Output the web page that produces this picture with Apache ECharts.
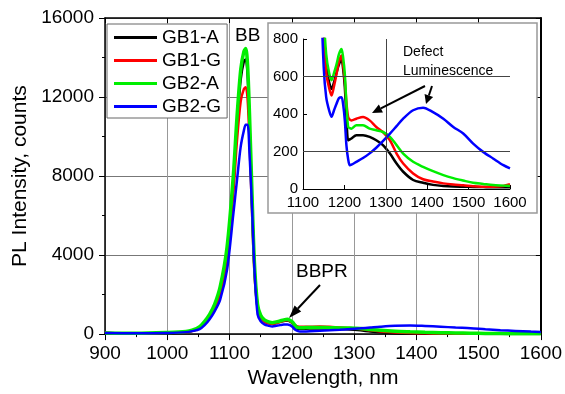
<!DOCTYPE html>
<html>
<head>
<meta charset="utf-8">
<script src="https://cdn.jsdelivr.net/npm/echarts@6/dist/echarts.min.js"></script>
<style>html,body{margin:0;padding:0;background:#fff}#c{width:565px;height:394px}</style>
</head>
<body>
<div id="c"></div>
<script>
// Wavelength sample points (nm)
var wavelengths = [900, 950, 1000, 1030, 1040, 1052, 1060, 1068, 1076, 1085, 1096, 1106, 1112, 1118, 1123, 1126, 1129, 1132, 1136, 1140, 1145, 1150, 1156, 1163, 1169, 1175, 1181, 1187, 1193, 1197, 1201, 1205, 1209, 1213, 1217, 1229, 1245, 1261, 1277, 1293, 1310, 1326, 1342, 1366, 1390, 1414, 1439, 1463, 1487, 1511, 1535, 1559, 1584, 1600];
var GB1_A = [50, 30, 70, 110, 170, 330, 580, 900, 1350, 2100, 4000, 7500, 10500, 12900, 13800, 13900, 13100, 10700, 6800, 3400, 1400, 880, 660, 570, 534, 570, 620, 665, 686, 640, 543, 380, 260, 265, 269, 287, 287, 278, 260, 234, 189, 136, 92, 48, 33, 22, 16, 13, 12, 11, 10, 9, 9, 9];
var GB1_G = [50, 30, 70, 110, 160, 300, 550, 850, 1300, 2000, 3800, 7100, 9800, 11800, 12400, 12500, 11900, 9800, 6300, 3100, 1300, 820, 620, 540, 499, 550, 614, 680, 712, 660, 579, 460, 384, 370, 366, 375, 384, 366, 331, 304, 260, 189, 136, 83, 52, 40, 30, 24, 20, 15, 12, 12, 16, 25];
var GB2_A = [60, 40, 80, 130, 200, 380, 650, 1000, 1500, 2400, 4400, 8000, 11000, 13400, 14300, 14450, 13600, 11200, 7200, 3600, 1500, 950, 720, 620, 580, 620, 665, 720, 747, 700, 614, 450, 331, 325, 322, 340, 340, 322, 313, 304, 278, 234, 189, 145, 118, 95, 74, 58, 45, 33, 27, 21, 18, 16];
var GB2_G = [50, 40, 60, 100, 150, 250, 450, 750, 1150, 1750, 3250, 6050, 7800, 9500, 10300, 10600, 10600, 9200, 6500, 3300, 1000, 650, 490, 420, 385, 420, 455, 485, 490, 450, 366, 230, 160, 127, 130, 145, 165, 190, 220, 255, 295, 335, 375, 420, 434, 410, 375, 331, 296, 242, 198, 163, 127, 110];

var seriesNames = ['GB1-A', 'GB1-G', 'GB2-A', 'GB2-G'];
var seriesValues = [GB1_A, GB1_G, GB2_A, GB2_G];
var seriesColors = ['#000000', '#ff0000', '#00ee00', '#0000ff'];

var mainXTicks = [900, 1000, 1100, 1200, 1300, 1400, 1500, 1600];
var mainYTicks = [0, 4000, 8000, 12000, 16000];
var insetXTicks = [1100, 1200, 1300, 1400, 1500, 1600];
var insetYTicks = [0, 200, 400, 600, 800];
var insetGridY = [200, 600];
var insetGridX = [1300];

var FONT = 'Liberation Sans, Arial, sans-serif';

function pairs(vals) { return wavelengths.map(function (w, i) { return [w, vals[i]]; }); }

var chart = echarts.init(document.getElementById('c'), null, {renderer: 'canvas'});

var series = [];
seriesValues.forEach(function (vals, i) {
  series.push({
    name: seriesNames[i], type: 'line', xAxisIndex: 0, yAxisIndex: 0,
    data: pairs(vals), symbol: 'none', smooth: 0.3, z: 2 + i * 0.1,
    lineStyle: {color: seriesColors[i], width: i === 2 ? 3.5 : 2.5},
    itemStyle: {color: seriesColors[i]}
  });
});
seriesValues.forEach(function (vals, i) {
  var s = {
    name: seriesNames[i], type: 'line', xAxisIndex: 2, yAxisIndex: 2,
    data: pairs(vals), symbol: 'none', smooth: 0.3, z: 4 + i * 0.1, clip: true,
    lineStyle: {color: seriesColors[i], width: 2.5},
    itemStyle: {color: seriesColors[i]}
  };
  if (i === 0) {
    s.markLine = {
      silent: true, symbol: 'none', label: {show: false},
      lineStyle: {color: '#444', width: 1, type: 'solid'},
      data: insetGridY.map(function (v) { return {yAxis: v}; }).concat(insetGridX.map(function (v) { return {xAxis: v}; }))
    };
  }
  series.push(s);
});

function arrow(x1, y1, x2, y2, head) {
  var a = Math.atan2(y2 - y1, x2 - x1);
  var L = head || 11, W = 4.5;
  var bx = x2 - L * Math.cos(a), by = y2 - L * Math.sin(a);
  var p1 = [bx + W * Math.sin(a), by - W * Math.cos(a)];
  var p2 = [bx - W * Math.sin(a), by + W * Math.cos(a)];
  return [
    {type: 'line', z: 20, shape: {x1: x1, y1: y1, x2: bx, y2: by}, style: {stroke: '#000', lineWidth: 2}},
    {type: 'polygon', z: 20, shape: {points: [[x2, y2], p1, p2]}, style: {fill: '#000'}}
  ];
}

var graphics = [
  {type: 'rect', z: 1, shape: {x: 268, y: 23, width: 269, height: 190}, style: {fill: '#fff', stroke: '#999', lineWidth: 1.5}},
  {type: 'text', z: 20, left: 235, top: 26, style: {text: 'BB', font: '19px ' + FONT, fill: '#000'}},
  {type: 'text', z: 20, left: 296, top: 262, style: {text: 'BBPR', font: '19px ' + FONT, fill: '#000'}},
  {type: 'text', z: 20, left: 403, top: 45, style: {text: 'Defect', font: '14px ' + FONT, fill: '#000'}},
  {type: 'text', z: 20, left: 403, top: 64, style: {text: 'Luminescence', font: '14px ' + FONT, fill: '#000'}}
].concat(arrow(320, 285, 289, 318, 13), arrow(425, 86, 372, 113, 10), arrow(432, 86, 426, 104, 9));

var option = {
  animation: false,
  backgroundColor: '#fff',
  textStyle: {fontFamily: FONT},
  grid: [
    {left: 105, right: 24, top: 18, bottom: 56},
    {left: 303, right: 55, top: 39, bottom: 205}
  ],
  legend: {
    data: seriesNames, orient: 'vertical', left: 107, top: 24,
    icon: 'rect', itemWidth: 43, itemHeight: 3, itemGap: 4, itemTextGap: 5,
    padding: [4, 6, 2, 7], borderColor: '#666', borderWidth: 1, backgroundColor: '#fff',
    textStyle: {fontFamily: FONT, fontSize: 19, color: '#000', lineHeight: 19},
    selectedMode: false, z: 6
  },
  xAxis: [
    {type: 'value', gridIndex: 0, position: 'bottom', min: 900, max: 1600, interval: 100,
     name: 'Wavelength, nm', nameLocation: 'middle', nameGap: 33,
     nameTextStyle: {fontFamily: FONT, fontSize: 21, color: '#000'},
     axisLine: {show: true, onZero: false, lineStyle: {color: '#000', width: 1.5}},
     axisTick: {show: true, inside: false, length: 6, lineStyle: {color: '#000', width: 1}},
     minorTick: {show: true, splitNumber: 2, length: 3, lineStyle: {color: '#000'}},
     axisLabel: {fontFamily: FONT, fontSize: 19, color: '#000', margin: 10,
       formatter: function (v) { return mainXTicks.indexOf(v) >= 0 ? String(v) : ''; }},
     splitLine: {show: true, lineStyle: {color: '#999', width: 1}}},
    {type: 'value', gridIndex: 0, position: 'top', min: 900, max: 1600, interval: 100,
     axisLine: {show: true, onZero: false, lineStyle: {color: '#000', width: 1.5}},
     axisTick: {show: true, inside: true, length: 5, lineStyle: {color: '#000'}},
     axisLabel: {show: false}, splitLine: {show: false}},
    {type: 'value', gridIndex: 1, min: 1100, max: 1600, interval: 100, z: 3,
     axisLine: {show: true, onZero: false, lineStyle: {color: '#000', width: 1}},
     axisTick: {show: true, inside: true, length: 4, lineStyle: {color: '#000'}},
     axisLabel: {fontFamily: FONT, fontSize: 15, color: '#000', margin: 6,
       formatter: function (v) { return insetXTicks.indexOf(v) >= 0 ? String(v) : ''; }},
     splitLine: {show: false}}
  ],
  yAxis: [
    {type: 'value', gridIndex: 0, position: 'left', min: 0, max: 16000, interval: 4000,
     name: 'PL Intensity, counts', nameLocation: 'middle', nameGap: 73,
     nameTextStyle: {fontFamily: FONT, fontSize: 21, color: '#000'},
     axisLine: {show: true, onZero: false, lineStyle: {color: '#000', width: 1.5}},
     axisTick: {show: true, inside: false, length: 6, lineStyle: {color: '#000'}},
     minorTick: {show: true, splitNumber: 2, length: 3, lineStyle: {color: '#000'}},
     axisLabel: {fontFamily: FONT, fontSize: 19, color: '#000', margin: 11,
       formatter: function (v) { return mainYTicks.indexOf(v) >= 0 ? String(v) : ''; }},
     splitLine: {show: true, lineStyle: {color: '#777', width: 1}}},
    {type: 'value', gridIndex: 0, position: 'right', min: 0, max: 16000, interval: 4000,
     axisLine: {show: true, onZero: false, lineStyle: {color: '#000', width: 2}},
     axisTick: {show: true, inside: true, length: 5, lineStyle: {color: '#000'}},
     axisLabel: {show: false}, splitLine: {show: false}},
    {type: 'value', gridIndex: 1, min: 0, max: 800, interval: 200, z: 3,
     axisLine: {show: true, onZero: false, lineStyle: {color: '#000', width: 1}},
     axisTick: {show: true, inside: true, length: 4, lineStyle: {color: '#000'}},
     axisLabel: {fontFamily: FONT, fontSize: 15, color: '#000', margin: 5,
       formatter: function (v) { return insetYTicks.indexOf(v) >= 0 ? String(v) : ''; }},
     splitLine: {show: false}}
  ],
  graphic: graphics,
  series: series
};
chart.setOption(option);
</script>
</body>
</html>
